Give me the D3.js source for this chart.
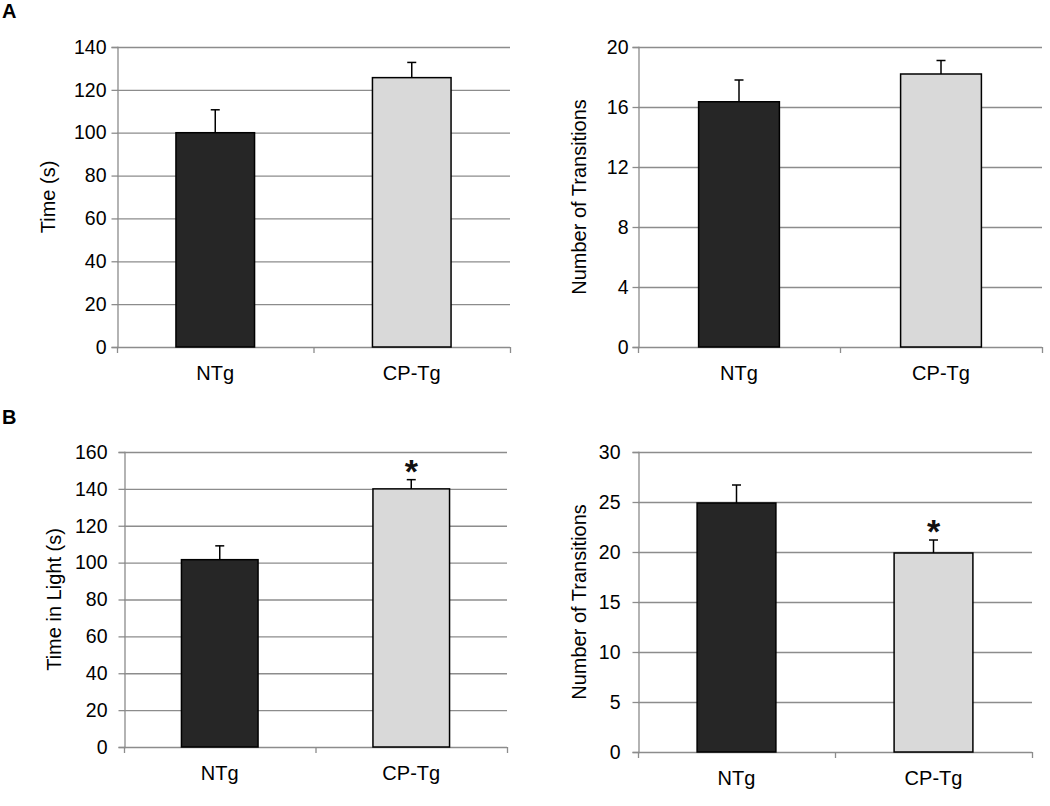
<!DOCTYPE html>
<html>
<head>
<meta charset="utf-8">
<script src="https://cdn.jsdelivr.net/npm/d3@7"></script>
<style>
  body { margin: 0; background: #fff; }
  svg { display: block; font-family: "Liberation Sans", Arial, sans-serif; }
</style>
</head>
<body>
<svg id="chart" width="1050" height="806"></svg>
<script>
// groups on the x axis
const groups = ["NTg", "CP-Tg"];

// panel A, left: time
const timeA = [100, 125.7];
const timeAErr = [10.7, 7.1];
// panel A, right: transitions
const transA = [16.35, 18.2];
const transAErr = [1.45, 0.9];
// panel B, left: time in light
const lightB = [101.6, 140];
const lightBErr = [7.5, 5];
// panel B, right: transitions
const transB = [24.9, 19.9];
const transBErr = [1.8, 1.3];

// significance marks
const starsB1 = [false, true];
const starsB2 = [false, true];

const yTicksA1 = [0, 20, 40, 60, 80, 100, 120, 140];
const yTicksA2 = [0, 4, 8, 12, 16, 20];
const yTicksB1 = [0, 20, 40, 60, 80, 100, 120, 140, 160];
const yTicksB2 = [0, 5, 10, 15, 20, 25, 30];

const fills = ["#262626", "#d9d9d9"];

const svg = d3.select("#chart");

function panel(opt) {
  const g = svg.append("g");
  const {left, right, top, bottom} = opt;

  const y = d3.scaleLinear().domain([0, opt.max]).range([bottom, top]);
  const x = d3.scaleBand().domain(groups).range([left, right])
      .paddingInner(0.6).paddingOuter(0.3);

  // gridlines
  g.selectAll(".grid").data(opt.ticks.filter(d => d > 0)).enter()
    .append("line")
    .attr("x1", left).attr("x2", right)
    .attr("y1", d => y(d) + 0.5).attr("y2", d => y(d) + 0.5)
    .attr("stroke", "#8c8c8c").attr("stroke-width", 1.3);

  // y axis
  const yAxis = g.append("g").attr("transform", `translate(${left + 0.5},0)`)
    .call(d3.axisLeft(y).tickValues(opt.ticks).tickSize(6).tickPadding(opt.pad));
  yAxis.select(".domain").attr("stroke", "#8c8c8c").attr("stroke-width", 1.3);
  yAxis.selectAll(".tick line").attr("stroke", "#8c8c8c").attr("stroke-width", 1.3);
  yAxis.selectAll("text").attr("font-size", 19.5).attr("fill", "#000")
    .attr("font-family", "Liberation Sans, Arial, sans-serif");

  // x axis: line with ticks at band edges
  const xg = g.append("g");
  xg.append("line").attr("x1", left).attr("x2", right)
    .attr("y1", bottom + 0.5).attr("y2", bottom + 0.5)
    .attr("stroke", "#8c8c8c").attr("stroke-width", 1.3);
  const edges = [left, (left + right) / 2, right];
  xg.selectAll(".xt").data(edges).enter().append("line")
    .attr("x1", d => d + 0.5).attr("x2", d => d + 0.5)
    .attr("y1", bottom).attr("y2", bottom + 6)
    .attr("stroke", "#8c8c8c").attr("stroke-width", 1.3);
  xg.selectAll(".xl").data(groups).enter().append("text")
    .attr("x", d => x(d) + x.bandwidth() / 2)
    .attr("y", bottom + 33)
    .attr("text-anchor", "middle")
    .attr("font-size", 20).attr("fill", "#000")
    .text(d => d);

  // bars
  g.selectAll(".bar").data(groups).enter().append("rect")
    .attr("x", d => x(d)).attr("width", x.bandwidth())
    .attr("y", (d, i) => y(opt.values[i]))
    .attr("height", (d, i) => y(0) - y(opt.values[i]))
    .attr("fill", (d, i) => fills[i])
    .attr("stroke", "#000").attr("stroke-width", 1.5);

  // error bars (upper only)
  const eb = g.selectAll(".err").data(groups).enter().append("g");
  eb.append("line")
    .attr("x1", d => x(d) + x.bandwidth() / 2).attr("x2", d => x(d) + x.bandwidth() / 2)
    .attr("y1", (d, i) => y(opt.values[i]))
    .attr("y2", (d, i) => y(opt.values[i] + opt.errs[i]))
    .attr("stroke", "#000").attr("stroke-width", 1.5);
  eb.append("line")
    .attr("x1", d => x(d) + x.bandwidth() / 2 - 4.5).attr("x2", d => x(d) + x.bandwidth() / 2 + 4.5)
    .attr("y1", (d, i) => y(opt.values[i] + opt.errs[i]))
    .attr("y2", (d, i) => y(opt.values[i] + opt.errs[i]))
    .attr("stroke", "#000").attr("stroke-width", 1.5);

  // stars
  if (opt.stars) {
    g.selectAll(".star").data(groups.filter((d, i) => opt.stars[i])).enter()
      .append("text")
      .attr("x", d => x(d) + x.bandwidth() / 2)
      .attr("y", d => {
        const i = groups.indexOf(d);
        return y(opt.values[i] + opt.errs[i]) + 3;
      })
      .attr("text-anchor", "middle")
      .attr("font-size", 34).attr("font-weight", "bold").attr("fill", "#111")
      .text("*");
  }

  // y label
  g.append("text")
    .attr("transform", `translate(${opt.labelX},${(top + bottom) / 2}) rotate(-90)`)
    .attr("text-anchor", "middle")
    .attr("font-size", 20).attr("fill", "#000")
    .text(opt.label);
}

panel({left: 117, right: 510, top: 47, bottom: 347, max: 140, ticks: yTicksA1, pad: 5,
       values: timeA, errs: timeAErr, label: "Time (s)", labelX: 55});
panel({left: 638, right: 1042, top: 47, bottom: 347, max: 20, ticks: yTicksA2, pad: 4,
       values: transA, errs: transAErr, label: "Number of Transitions", labelX: 586});
panel({left: 124, right: 507, top: 452, bottom: 747, max: 160, ticks: yTicksB1, pad: 11,
       values: lightB, errs: lightBErr, stars: starsB1, label: "Time in Light (s)", labelX: 61});
panel({left: 638, right: 1032, top: 452, bottom: 752, max: 30, ticks: yTicksB2, pad: 12,
       values: transB, errs: transBErr, stars: starsB2, label: "Number of Transitions", labelX: 586});

// panel letters
svg.append("text").attr("x", 2).attr("y", 18)
  .attr("font-size", 20).attr("font-weight", "bold").text("A");
svg.append("text").attr("x", 2).attr("y", 424)
  .attr("font-size", 20).attr("font-weight", "bold").text("B");
</script>
</body>
</html>
